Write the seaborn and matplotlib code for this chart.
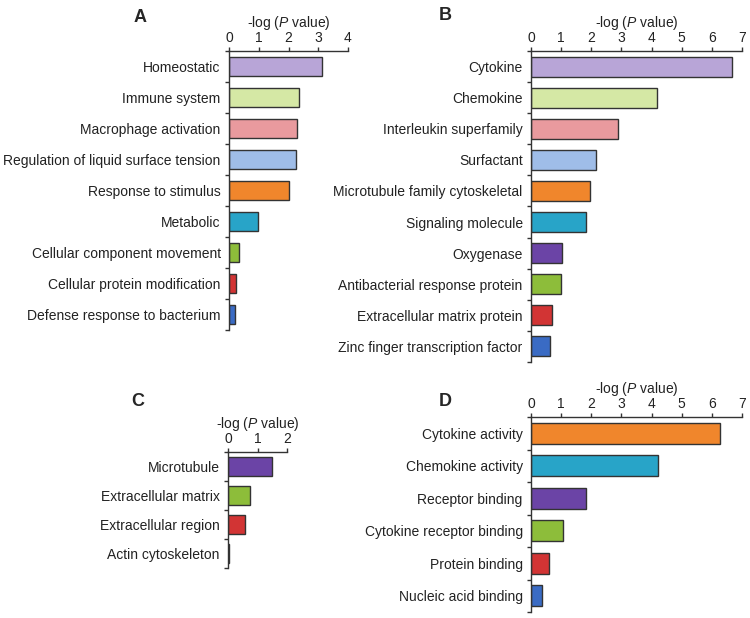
import matplotlib
matplotlib.use("Agg")
import matplotlib.pyplot as plt
import seaborn as sns
import pandas as pd
from matplotlib.ticker import FixedLocator

sns.set_style("white")
plt.rcParams['font.family'] = ['Liberation Sans', 'DejaVu Sans']
plt.rcParams['mathtext.fontset'] = 'custom'
plt.rcParams['mathtext.rm'] = 'Liberation Sans'
plt.rcParams['mathtext.it'] = 'Liberation Sans:italic'

# ---- data ----
a_cats = ["Homeostatic", "Immune system", "Macrophage activation",
          "Regulation of liquid surface tension", "Response to stimulus",
          "Metabolic", "Cellular component movement",
          "Cellular protein modification", "Defense response to bacterium"]
a_vals = [3.12, 2.35, 2.30, 2.24, 2.03, 0.98, 0.33, 0.25, 0.20]

b_cats = ["Cytokine", "Chemokine", "Interleukin superfamily", "Surfactant",
          "Microtubule family cytoskeletal", "Signaling molecule", "Oxygenase",
          "Antibacterial response protein", "Extracellular matrix protein",
          "Zinc finger transcription factor"]
b_vals = [6.67, 4.19, 2.90, 2.14, 1.96, 1.84, 1.02, 0.99, 0.69, 0.63]

c_cats = ["Microtubule", "Extracellular matrix", "Extracellular region",
          "Actin cytoskeleton"]
c_vals = [1.49, 0.75, 0.58, 0.05]

d_cats = ["Cytokine activity", "Chemokine activity", "Receptor binding",
          "Cytokine receptor binding", "Protein binding", "Nucleic acid binding"]
d_vals = [6.27, 4.22, 1.82, 1.05, 0.61, 0.37]

a_ticks = [0, 1, 2, 3, 4]
bd_ticks = [0, 1, 2, 3, 4, 5, 6, 7]
c_ticks = [0, 1, 2]

# ---- colours ----
LAV = "#b8a5d7"; LGR = "#d5e8a5"; PNK = "#e99a9e"; LBL = "#9fbde8"
ORG = "#f0862c"; TEA = "#28a4c8"; PUR = "#6b44a6"; GRN = "#8dbd3a"
RED = "#d23434"; BLU = "#3a6bc4"

a_cols = [LAV, LGR, PNK, LBL, ORG, TEA, GRN, RED, BLU]
b_cols = [LAV, LGR, PNK, LBL, ORG, TEA, PUR, GRN, RED, BLU]
c_cols = [PUR, GRN, RED, BLU]
d_cols = [ORG, TEA, PUR, GRN, RED, BLU]

W, H = 750, 618
fig = plt.figure(figsize=(7.5, 6.18), dpi=100)


def make_ax(left, right, top, bottom):
    return fig.add_axes([left / W, 1 - bottom / H, (right - left) / W, (bottom - top) / H])


def panel(ax, cats, vals, cols, ticks, letter, letter_xy):
    df = pd.DataFrame({"cat": cats, "val": vals})
    sns.barplot(data=df, x="val", y="cat", hue="cat", palette=cols, legend=False,
                orient="h", ax=ax, width=0.64, edgecolor="#333333", linewidth=1.0,
                saturation=1)
    n = len(cats)
    ax.set_xlim(ticks[0], ticks[-1])
    ax.set_ylim(n - 0.5, -0.5)
    ax.xaxis.set_ticks_position("top")
    ax.xaxis.set_label_position("top")
    ax.set_xticks(ticks)
    ax.set_xlabel(r"-log ($\it{P}$ value)", fontsize=10, labelpad=3, color="#222222")
    ax.set_ylabel("")
    for s in ["right", "bottom"]:
        ax.spines[s].set_visible(False)
    for s in ["left", "top"]:
        ax.spines[s].set_color("#333333")
        ax.spines[s].set_linewidth(1.0)
    ax.tick_params(axis="x", which="major", direction="out", length=3, width=1,
                   color="#333333", labelsize=10, pad=1, labelcolor="#222222")
    ax.tick_params(axis="y", which="major", length=0, labelsize=10, pad=6,
                   labelcolor="#222222")
    ax.yaxis.set_minor_locator(FixedLocator([i - 0.5 for i in range(n + 1)]))
    ax.tick_params(axis="y", which="minor", direction="out", length=3, width=1,
                   color="#333333", left=True)
    fig.text(letter_xy[0] / W, 1 - letter_xy[1] / H, letter, fontsize=13,
             fontweight="bold", ha="center", va="center")


axA = make_ax(229, 348, 51, 330)
panel(axA, a_cats, a_vals, a_cols, a_ticks, "A", (140, 17))

axB = make_ax(531, 742, 51, 362)
panel(axB, b_cats, b_vals, b_cols, bd_ticks, "B", (445, 16))

axC = make_ax(228, 287, 452, 568)
panel(axC, c_cats, c_vals, c_cols, c_ticks, "C", (138, 401))

axD = make_ax(531, 742, 417, 612)
panel(axD, d_cats, d_vals, d_cols, bd_ticks, "D", (445, 401))

fig.savefig("out.png", dpi=100, facecolor="white")
